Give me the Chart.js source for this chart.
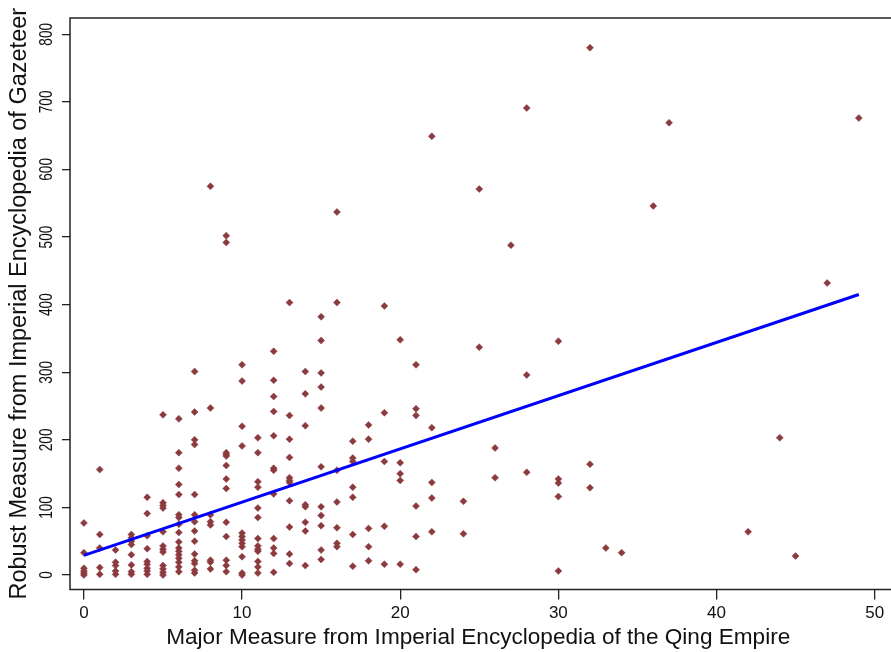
<!DOCTYPE html>
<html>
<head>
<meta charset="utf-8">
<script src="https://cdn.jsdelivr.net/npm/chart.js@4.4.1/dist/chart.umd.min.js"></script>
<style>
  body { margin: 0; background: #fff; }
  #wrap { width: 891px; height: 652px; }
</style>
</head>
<body>
<div id="wrap"><canvas id="scatterChart" width="891" height="652"></canvas></div>
<script>
// --- Data ---
const pointX = [
  0,0,0,0,0,0,
  1,1,1,1,1,
  2,2,2,2,2,
  3,3,3,3,3,3,3,3,
  4,4,4,4,4,4,4,4,4,
  5,5,5,5,5,5,5,5,5,5,5,5,
  6,6,6,6,6,6,6,6,6,6,6,6,6,6,6,6,6,
  7,7,7,7,7,7,7,7,7,7,7,7,7,7,
  8,8,8,8,8,8,8,8,
  9,9,9,9,9,9,9,9,9,9,9,9,9,
  10,10,10,10,10,10,10,10,10,10,10,10,
  11,11,11,11,11,11,11,11,11,11,11,11,11,
  12,12,12,12,12,12,12,12,12,12,12,12,
  13,13,13,13,13,13,13,13,13,13,13,
  14,14,14,14,14,14,14,14,
  15,15,15,15,15,15,15,15,15,15,15,
  16,16,16,16,16,16,16,
  17,17,17,17,17,17,17,
  18,18,18,18,18,
  19,19,19,19,19,
  20,20,20,20,20,
  21,21,21,21,21,21,
  22,22,22,22,22,
  24,24,
  25,25,
  26,26,
  27,
  28,28,28,
  30,30,30,30,30,
  32,32,32,
  33, 34, 36, 37, 42, 44, 45, 47, 49
];
const pointY = [
  77,33,10,6,3,0,
  156,60,40,11,1,
  37,19,14,6,1,
  60,55,50,45,30,15,5,1,
  115,91,58,39,20,16,10,6,1,
  237,107,103,99,64,43,38,34,14,9,4,0,
  231,181,158,134,119,89,85,75,63,49,40,35,30,25,19,12,5,
  301,241,200,193,119,89,79,65,50,31,21,17,7,3,
  575,247,89,79,74,22,19,9,
  502,492,181,178,176,162,142,128,78,57,22,14,5,
  311,287,220,191,62,57,52,47,42,27,3,0,
  203,181,138,130,99,85,54,43,38,35,20,12,3,
  331,288,264,242,206,158,155,120,54,40,32,4,
  403,236,201,174,144,140,137,110,71,31,17,
  301,268,221,104,101,78,65,14,
  382,347,299,278,247,160,101,88,73,37,23,
  537,403,155,108,70,47,42,
  198,173,168,130,115,60,13,
  222,201,69,42,21,
  398,240,168,72,16,
  348,166,150,140,16,
  311,246,236,102,57,8,
  649,218,137,114,64,
  109,61,
  571,337,
  188,144,
  488,
  691,296,152,
  346,142,136,116,6,
  780,164,129,
  40, 33, 546, 669, 64, 203, 28, 432, 676
];

// fitted line end points
const fitX = [0, 49];
const fitY = [29, 415];

const xTicks = [0, 10, 20, 30, 40, 50];
const yTicks = [0, 100, 200, 300, 400, 500, 600, 700, 800];

const xTitle = 'Major Measure from Imperial Encyclopedia of the Qing Empire';
const yTitle = 'Robust Measure from Imperial Encyclopedia of Gazeteer';

// --- Build datasets ---
const scatterPoints = pointX.map((x, i) => ({ x: x, y: pointY[i] }));
const fitPoints = fitX.map((x, i) => ({ x: x, y: fitY[i] }));

const FONT = "'Liberation Sans', Arial, sans-serif";

// frame on top, left and bottom of the plot region
const framePlugin = {
    id: 'frame',
    afterDraw(chart) {
        const a = chart.chartArea;
        const ctx = chart.ctx;
        ctx.save();
        ctx.strokeStyle = '#222';
        ctx.lineWidth = 1.5;
        ctx.beginPath();
        ctx.moveTo(chart.width, a.top);
        ctx.lineTo(a.left, a.top);
        ctx.lineTo(a.left, a.bottom);
        ctx.lineTo(chart.width, a.bottom);
        ctx.stroke();
        ctx.restore();
    }
};

// vertical y tick labels, narrow like the original
const yLabelPlugin = {
    id: 'yLabels',
    afterDraw(chart) {
        const ys = chart.scales.y;
        const ctx = chart.ctx;
        const size = 19;
        yTicks.forEach(v => {
            const py = ys.getPixelForValue(v);
            ctx.save();
            ctx.translate(45, py);
            ctx.rotate(-Math.PI / 2);
            ctx.scale(0.72, 1);
            ctx.font = `${size}px ${FONT}`;
            ctx.fillStyle = '#111';
            ctx.textAlign = 'center';
            ctx.textBaseline = 'alphabetic';
            ctx.fillText(String(v), 0, size * 0.358);
            ctx.restore();
        });
    }
};

new Chart(document.getElementById('scatterChart'), {
    type: 'scatter',
    data: {
        datasets: [
            {
                label: 'Observed',
                data: scatterPoints,
                pointStyle: 'rectRot',
                pointRadius: 3.5,
                backgroundColor: '#8b3a3e',
                borderColor: '#8b3a3e',
                borderWidth: 0.5,
                order: 2
            },
            {
                label: 'Fitted',
                type: 'line',
                data: fitPoints,
                borderColor: '#0000ff',
                borderWidth: 3,
                pointRadius: 0,
                fill: false,
                order: 1
            }
        ]
    },
    options: {
        responsive: false,
        animation: false,
        layout: { padding: { top: 18, right: 0, left: 0, bottom: 0 } },
        plugins: {
            legend: { display: false },
            tooltip: { enabled: false }
        },
        scales: {
            x: {
                type: 'linear',
                min: -0.88,
                max: 50.75,
                afterBuildTicks: s => { s.ticks = xTicks.map(v => ({ value: v })); },
                afterFit: s => { s.height = 62.5; s.paddingLeft = 0; s.paddingRight = 0; },
                grid: { drawOnChartArea: false, drawTicks: true, tickLength: 10, color: '#222', lineWidth: 1.3 },
                border: { display: false },
                ticks: { color: '#111', font: { family: FONT, size: 17 }, padding: 4, maxRotation: 0 },
                title: {
                    display: true,
                    text: xTitle,
                    color: '#111',
                    font: { family: FONT, size: 22.6 },
                    padding: { top: 0, bottom: 1 }
                }
            },
            y: {
                type: 'linear',
                min: -21.4,
                max: 824,
                afterBuildTicks: s => { s.ticks = yTicks.map(v => ({ value: v })); },
                afterFit: s => { s.width = 70; s.paddingTop = 0; s.paddingBottom = 0; },
                grid: { drawOnChartArea: false, drawTicks: true, tickLength: 8, color: '#222', lineWidth: 1.3 },
                border: { display: false },
                ticks: { color: 'rgba(0,0,0,0)', font: { family: FONT, size: 12 }, padding: 3 },
                title: {
                    display: true,
                    text: yTitle,
                    color: '#111',
                    font: { family: FONT, size: 23.5 },
                    padding: { top: 5, bottom: 0 }
                }
            }
        }
    },
    plugins: [framePlugin, yLabelPlugin]
});
</script>
</body>
</html>
